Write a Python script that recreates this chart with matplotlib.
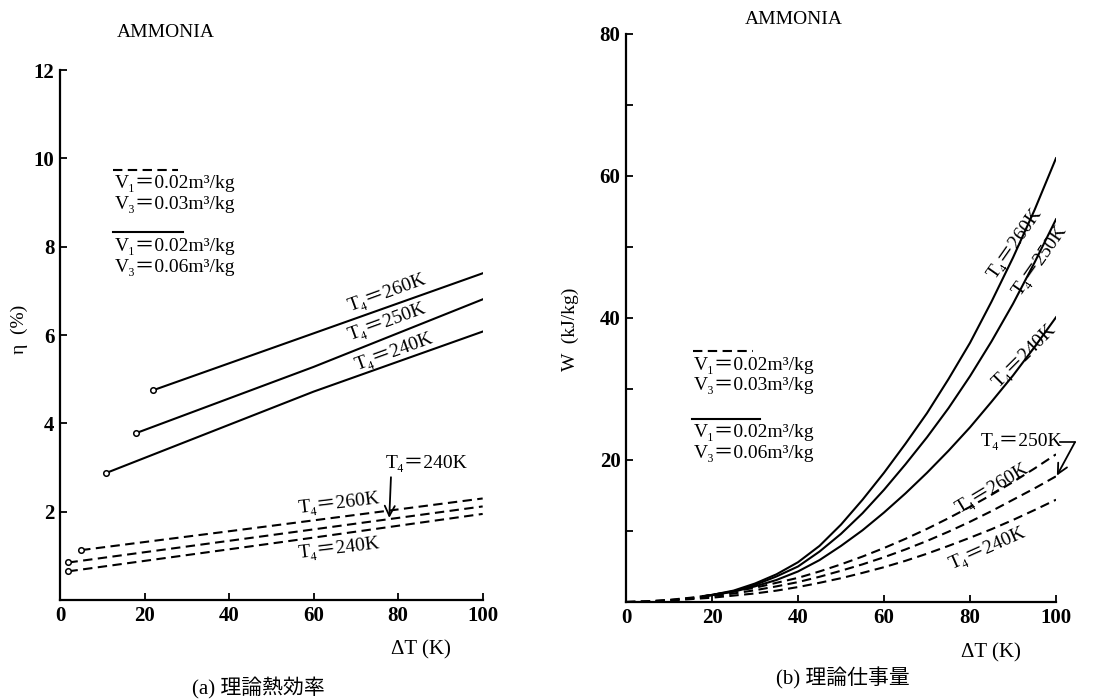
import matplotlib
matplotlib.use('Agg')
import matplotlib.pyplot as plt

plt.rcParams['font.family'] = ['Liberation Serif', 'DejaVu Serif', 'Noto Sans CJK JP']
plt.rcParams['font.size'] = 14

# (a) 理論熱効率  eta [%] vs dT [K]
eta_solid_x = {'260K': [22, 60, 100], '250K': [18, 60, 100], '240K': [11, 60, 100]}
eta_solid_y = {'260K': [4.75, 6.04, 7.40], '250K': [3.78, 5.28, 6.81], '240K': [2.88, 4.72, 6.08]}
eta_dash_x = {'260K': [5, 50, 100], '250K': [2, 50, 100], '240K': [2, 50, 100]}
eta_dash_y = {'260K': [1.13, 1.68, 2.30], '250K': [0.85, 1.47, 2.12], '240K': [0.65, 1.28, 1.95]}

# (b) 理論仕事量  W [kJ/kg] vs dT [K]
w_solid_x = [18, 20, 25, 30, 35, 40, 45, 50, 55, 60, 65, 70, 75, 80, 85, 90, 95, 100]
w_solid_y = {
    '260K': [0.8, 1.0, 1.6, 2.6, 3.9, 5.6, 7.9, 10.9, 14.4, 18.2, 22.3, 26.6, 31.4, 36.5, 42.3, 48.5, 55.2, 62.5],
    '250K': [0.8, 1.0, 1.5, 2.4, 3.6, 5.0, 7.1, 9.6, 12.5, 15.8, 19.4, 23.2, 27.3, 31.8, 36.7, 42.0, 47.8, 53.9],
    '240K': [0.8, 0.95, 1.45, 2.2, 3.1, 4.3, 5.9, 7.9, 10.1, 12.6, 15.3, 18.2, 21.3, 24.6, 28.2, 31.9, 35.9, 40.1],
}
w_dash_x = [0, 5, 10, 15, 20, 25, 30, 35, 40, 45, 50, 55, 60, 65, 70, 75, 80, 85, 90, 95, 100]
w_dash_y = {
    '260K': [0, 0.1, 0.3, 0.6, 1.0, 1.5, 2.0, 2.7, 3.4, 4.3, 5.3, 6.4, 7.6, 8.9, 10.3, 11.8, 13.4, 15.1, 16.9, 18.8, 20.8],
    '250K': [0, 0.08, 0.25, 0.5, 0.8, 1.2, 1.65, 2.2, 2.8, 3.55, 4.4, 5.3, 6.3, 7.4, 8.6, 9.9, 11.3, 12.8, 14.4, 16.0, 17.7],
    '240K': [0, 0.05, 0.2, 0.4, 0.6, 0.9, 1.2, 1.6, 2.1, 2.7, 3.35, 4.1, 4.9, 5.8, 6.8, 7.9, 9.05, 10.25, 11.55, 12.95, 14.4],
}

x_ticks = [0, 20, 40, 60, 80, 100]
eta_ticks = [2, 4, 6, 8, 10, 12]
w_ticks = [10, 20, 30, 40, 50, 60, 70, 80]
w_ticklabels = ['', '20', '', '40', '', '60', '', '80']

legend_lines = ['V₁＝0.02m³/kg\nV₃＝0.03m³/kg', 'V₁＝0.02m³/kg\nV₃＝0.06m³/kg']

LW = 1.5
DASH = (0, (4.5, 2.6))

fig = plt.figure(figsize=(10.95, 6.99), dpi=100)
ax1 = fig.add_axes([0.0548, 0.1416, 0.386, 0.758])
ax2 = fig.add_axes([0.5717, 0.1388, 0.3927, 0.8126])

for ax in (ax1, ax2):
    for s in ('top', 'right'):
        ax.spines[s].set_visible(False)
    ax.spines['left'].set_linewidth(1.6)
    ax.spines['bottom'].set_linewidth(1.6)
    ax.tick_params(direction='in', length=5, width=1.3, labelsize=15, pad=4)
    ax.set_xlim(0, 100)
    ax.set_xticks(x_ticks)
    for lab in ax.get_xticklabels():
        lab.set_fontweight('bold')

# ---- left panel
for k in ('260K', '250K', '240K'):
    ax1.plot(eta_solid_x[k], eta_solid_y[k], color='black', lw=LW)
    ax1.plot(eta_solid_x[k][0], eta_solid_y[k][0], 'o', ms=4, mfc='white', mec='black', mew=1.1)
    ax1.plot(eta_dash_x[k], eta_dash_y[k], color='black', lw=LW, ls=DASH)
    ax1.plot(eta_dash_x[k][0], eta_dash_y[k][0], 'o', ms=4, mfc='white', mec='black', mew=1.1)

ax1.set_ylim(0, 12)
ax1.set_yticks(eta_ticks)
for lab in ax1.get_yticklabels():
    lab.set_fontweight('bold')

ax1.text(77.4, 6.95, 'T₄＝260K', rotation=20, ha='center', va='center', fontsize=14)
ax1.text(77.4, 6.30, 'T₄＝250K', rotation=20, ha='center', va='center', fontsize=14)
ax1.text(79.0, 5.62, 'T₄＝240K', rotation=20, ha='center', va='center', fontsize=14)
ax1.text(66, 2.18, 'T₄＝260K', rotation=7, ha='center', va='center', fontsize=14)
ax1.text(66, 1.16, 'T₄＝240K', rotation=7, ha='center', va='center', fontsize=14)
ax1.annotate('T₄＝240K', xy=(77.9, 1.86), xytext=(77.0, 3.1), ha='left', va='center',
             fontsize=14,
             arrowprops=dict(arrowstyle='->', lw=1.3, color='black', relpos=(0.07, 0.0),
                             shrinkA=2, shrinkB=0, mutation_scale=18))

# legend keys drawn above the text
ax1.plot([0.125, 0.28], [0.812, 0.812], transform=ax1.transAxes, color='black', lw=LW, ls=DASH)
ax1.text(0.13, 0.802, legend_lines[0], transform=ax1.transAxes, va='top', ha='left',
         fontsize=14, linespacing=1.3)
ax1.plot([0.125, 0.29], [0.694, 0.694], transform=ax1.transAxes, color='black', lw=LW)
ax1.text(0.13, 0.684, legend_lines[1], transform=ax1.transAxes, va='top', ha='left',
         fontsize=14, linespacing=1.3)

ax1.set_title('AMMONIA', fontsize=14, pad=24, x=0.25)
ax1.set_xlabel('ΔT (K)', fontsize=15)
ax1.xaxis.set_label_coords(0.855, -0.075)
ax1.set_ylabel('η  (%)', fontsize=14)
ax1.yaxis.set_label_coords(-0.075, 0.51)

# ---- right panel
for k in ('260K', '250K', '240K'):
    ax2.plot(w_solid_x, w_solid_y[k], color='black', lw=LW)
    ax2.plot(w_dash_x, w_dash_y[k], color='black', lw=LW, ls=DASH)

ax2.set_ylim(0, 80)
ax2.set_yticks(w_ticks)
ax2.set_yticklabels(w_ticklabels, fontweight='bold')

ax2.text(90.5, 50.5, 'T₄＝260K', rotation=55, ha='center', va='center', fontsize=14)
ax2.text(96.3, 48.0, 'T₄＝250K', rotation=55, ha='center', va='center', fontsize=14)
ax2.text(92.8, 34.6, 'T₄＝240K', rotation=45, ha='center', va='center', fontsize=14)
ax2.text(85.2, 16.0, 'T₄＝260K', rotation=31, ha='center', va='center', fontsize=14)
ax2.text(84.0, 7.5, 'T₄＝240K', rotation=24, ha='center', va='center', fontsize=14)
ax2.text(91.9, 22.6, 'T₄＝250K', ha='center', va='center', fontsize=14)
ax2.plot([101.0, 104.4], [22.5, 22.5], color='black', lw=1.2, clip_on=False)
ax2.annotate('', xy=(100.2, 17.8), xytext=(104.4, 22.5),
             arrowprops=dict(arrowstyle='->', lw=1.3, color='black',
                             shrinkA=0, shrinkB=0, mutation_scale=18),
             annotation_clip=False)

ax2.plot([0.155, 0.295], [0.441, 0.441], transform=ax2.transAxes, color='black', lw=LW, ls=DASH)
ax2.text(0.158, 0.432, legend_lines[0], transform=ax2.transAxes, va='top', ha='left',
         fontsize=14, linespacing=1.3)
ax2.plot([0.153, 0.312], [0.322, 0.322], transform=ax2.transAxes, color='black', lw=LW)
ax2.text(0.158, 0.313, legend_lines[1], transform=ax2.transAxes, va='top', ha='left',
         fontsize=14, linespacing=1.3)

ax2.text(0.39, 1.025, 'AMMONIA', transform=ax2.transAxes, ha='center', va='center', fontsize=14)
ax2.set_xlabel('ΔT (K)', fontsize=15)
ax2.xaxis.set_label_coords(0.848, -0.073)
ax2.set_ylabel('W  (kJ/kg)', fontsize=14)
ax2.yaxis.set_label_coords(-0.11, 0.48)

fig.text(258 / 1095, 1 - 688 / 699, '(a) 理論熱効率', ha='center', va='center', fontsize=15)
fig.text(843 / 1095, 1 - 678 / 699, '(b) 理論仕事量', ha='center', va='center', fontsize=15)

fig.savefig('out.png', dpi=100)
